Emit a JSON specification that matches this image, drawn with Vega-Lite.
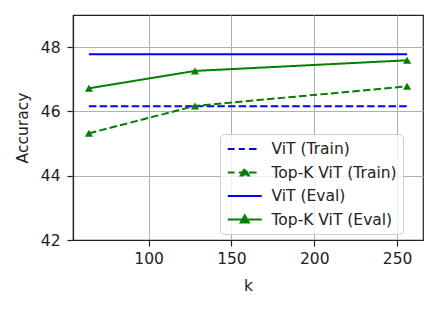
{
  "$schema": "https://vega.github.io/schema/vega-lite/v6.json",
  "width": 350,
  "height": 225,
  "autosize": "none",
  "padding": {"left": 73, "top": 15, "right": 14, "bottom": 69},
  "background": "white",
  "config": {
    "font": "DejaVu Sans",
    "view": {"stroke": "#222222", "strokeWidth": 1.2},
    "axis": {
      "labelFont": "DejaVu Sans",
      "titleFont": "DejaVu Sans",
      "labelFontSize": 15.5,
      "titleFontSize": 15.5,
      "titleFontWeight": "normal",
      "labelColor": "#222222",
      "titleColor": "#222222",
      "domainColor": "#222222",
      "domainWidth": 1.2,
      "tickColor": "#222222",
      "tickSize": 6,
      "tickWidth": 1.2,
      "gridColor": "#b0b0b0",
      "gridWidth": 1
    }
  },
  "data": {
    "values": [
      {"k": 64, "acc": 46.16, "series": "ViT (Train)"},
      {"k": 256, "acc": 46.16, "series": "ViT (Train)"},
      {"k": 64, "acc": 45.32, "series": "Top-K ViT (Train)"},
      {"k": 128, "acc": 46.17, "series": "Top-K ViT (Train)"},
      {"k": 256, "acc": 46.78, "series": "Top-K ViT (Train)"},
      {"k": 64, "acc": 47.78, "series": "ViT (Eval)"},
      {"k": 256, "acc": 47.78, "series": "ViT (Eval)"},
      {"k": 64, "acc": 46.72, "series": "Top-K ViT (Eval)"},
      {"k": 128, "acc": 47.26, "series": "Top-K ViT (Eval)"},
      {"k": 256, "acc": 47.59, "series": "Top-K ViT (Eval)"}
    ]
  },
  "encoding": {
    "x": {
      "field": "k", "type": "quantitative",
      "scale": {"domain": [54.4, 265.6], "nice": false, "zero": false},
      "axis": {"values": [100, 150, 200, 250], "title": "k", "titlePadding": 12, "labelPadding": 5}
    },
    "y": {
      "field": "acc", "type": "quantitative",
      "scale": {"domain": [42, 49], "nice": false, "zero": false},
      "axis": {"values": [42, 44, 46, 48], "title": "Accuracy", "titlePadding": 10, "labelPadding": 7}
    },
    "color": {
      "field": "series", "type": "nominal",
      "scale": {
        "domain": ["ViT (Train)", "Top-K ViT (Train)", "ViT (Eval)", "Top-K ViT (Eval)"],
        "range": ["#0000ff", "#008000", "#0000ff", "#008000"]
      },
      "legend": {
        "title": null,
        "orient": "none",
        "legendX": 147,
        "legendY": 119,
        "padding": 5.5,
        "fillColor": "rgba(255,255,255,0.8)",
        "strokeColor": "#cccccc",
        "cornerRadius": 4,
        "labelFont": "DejaVu Sans",
        "labelFontSize": 15.5,
        "labelColor": "#222222",
        "labelOffset": 27,
        "labelLimit": 300,
        "symbolSize": 289,
        "symbolStrokeWidth": 2,
        "rowPadding": 5.5,
        "encode": {
          "symbols": {
            "update": {
              "shape": {"signal": "datum.value == 'ViT (Train)' ? 'M-0.85,0H-0.05M0.45,0H1.15M1.65,0H2.55' : datum.value == 'Top-K ViT (Train)' ? 'M-0.85,0H-0.05M0.45,0H1.15M1.65,0H2.55M0.67,0.36L1.15,-0.48L1.63,0.36Z' : datum.value == 'ViT (Eval)' ? 'M-0.85,0H3.15' : 'M-0.85,0H3.15M0.67,0.36L1.15,-0.48L1.63,0.36Z'"},
              "fill": {"scale": "color", "field": "value"},
              "stroke": {"scale": "color", "field": "value"},
              "strokeWidth": {"value": 2},
              "strokeDash": {"value": [1, 0]},
              "opacity": {"value": 1}
            }
          }
        }
      }
    }
  },
  "layer": [
    {
      "mark": {"type": "line", "strokeWidth": 2},
      "encoding": {
        "strokeDash": {
          "field": "series", "type": "nominal",
          "scale": {
            "domain": ["ViT (Train)", "Top-K ViT (Train)", "ViT (Eval)", "Top-K ViT (Eval)"],
            "range": [[7.5, 3.2], [7.5, 3.2], [1, 0], [1, 0]]
          },
          "legend": null
        }
      }
    },
    {
      "transform": [{"filter": "indexof(datum.series, 'Top-K') >= 0"}],
      "mark": {"type": "point", "shape": "triangle-up", "filled": true, "size": 65, "opacity": 1}
    }
  ]
}
